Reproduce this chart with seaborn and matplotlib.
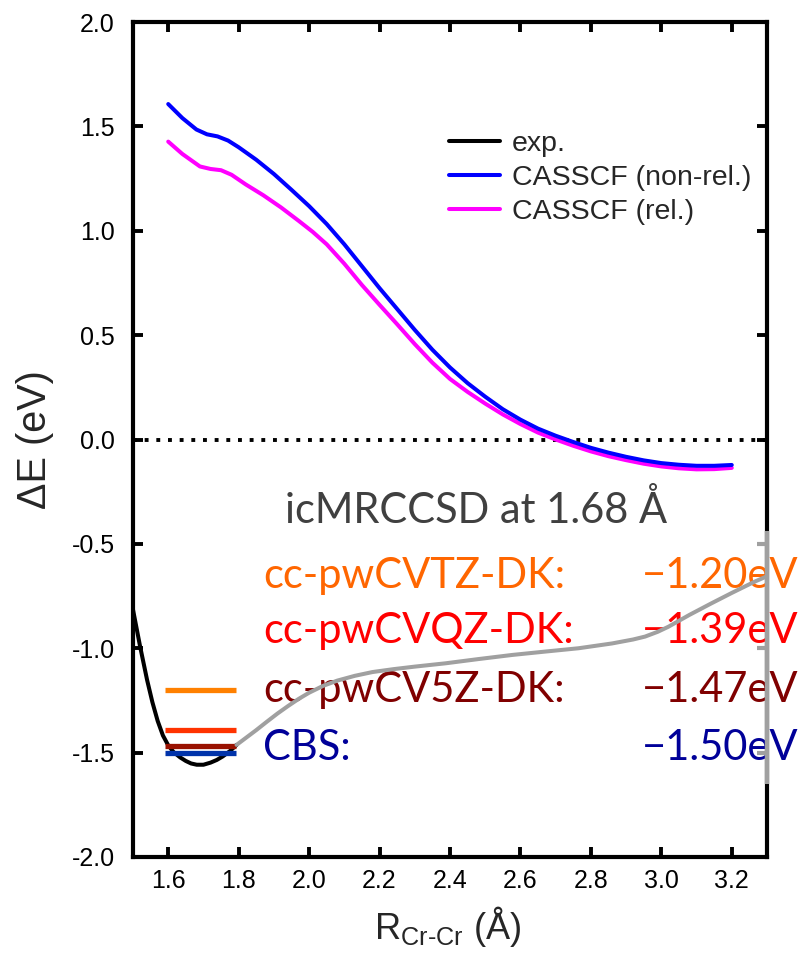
import matplotlib
matplotlib.use("Agg")
import matplotlib.pyplot as plt
import matplotlib.transforms as mtransforms
import pandas as pd
import seaborn as sns

# --- data -------------------------------------------------------------
# CASSCF (non-relativistic) potential curve
nonrel_r = [1.60, 1.64, 1.68, 1.71, 1.74, 1.77, 1.80, 1.85, 1.90, 1.95,
            2.00, 2.05, 2.10, 2.15, 2.20, 2.25, 2.30, 2.35, 2.40, 2.45,
            2.50, 2.55, 2.60, 2.65, 2.70, 2.75, 2.80, 2.85, 2.90, 2.95,
            3.00, 3.05, 3.10, 3.15, 3.20]
nonrel_e = [1.607, 1.540, 1.485, 1.462, 1.452, 1.432, 1.400, 1.340, 1.272, 1.196,
            1.118, 1.032, 0.935, 0.830, 0.725, 0.625, 0.525, 0.430, 0.345, 0.270,
            0.205, 0.145, 0.095, 0.052, 0.018, -0.012, -0.040, -0.063, -0.083, -0.100,
            -0.113, -0.121, -0.126, -0.126, -0.122]

# CASSCF (relativistic) potential curve
rel_r = [1.60, 1.64, 1.69, 1.72, 1.75, 1.78, 1.82, 1.87, 1.92, 1.97,
         2.01, 2.05, 2.10, 2.15, 2.20, 2.25, 2.30, 2.35, 2.40, 2.45,
         2.50, 2.55, 2.60, 2.65, 2.70, 2.75, 2.80, 2.85, 2.90, 2.95,
         3.00, 3.05, 3.10, 3.15, 3.20]
rel_e = [1.427, 1.368, 1.308, 1.296, 1.290, 1.268, 1.222, 1.170, 1.112, 1.048,
         0.995, 0.935, 0.842, 0.740, 0.645, 0.552, 0.457, 0.368, 0.290, 0.228,
         0.172, 0.120, 0.074, 0.033, 0.000, -0.030, -0.057, -0.080, -0.099, -0.116,
         -0.129, -0.138, -0.143, -0.142, -0.136]

# experimental curve (black near the minimum, grey beyond)
exp_r = [1.500, 1.520, 1.540, 1.555, 1.570, 1.585, 1.600, 1.615, 1.634, 1.650,
         1.665, 1.681, 1.700, 1.720, 1.738, 1.755, 1.775, 1.794]
exp_e = [-0.815, -0.990, -1.152, -1.258, -1.348, -1.418, -1.465, -1.497, -1.523, -1.540,
         -1.552, -1.558, -1.558, -1.548, -1.535, -1.518, -1.493, -1.463]
exp_far_r = [1.794, 1.820, 1.850, 1.880, 1.910, 1.940, 1.970, 2.000, 2.040, 2.080,
             2.130, 2.180, 2.240, 2.300, 2.388, 2.480, 2.577, 2.670, 2.765, 2.860,
             2.920, 2.954, 2.990, 3.020, 3.080, 3.142, 3.200, 3.265, 3.300]
exp_far_e = [-1.463, -1.430, -1.392, -1.352, -1.313, -1.277, -1.243, -1.213, -1.180, -1.155,
             -1.132, -1.114, -1.100, -1.088, -1.072, -1.052, -1.032, -1.016, -1.000, -0.977,
             -0.958, -0.944, -0.921, -0.897, -0.840, -0.785, -0.735, -0.681, -0.655]

# icMRCCSD well depths at 1.68 Å
basis_names = ["cc-pwCVTZ-DK:", "cc-pwCVQZ-DK:", "cc-pwCV5Z-DK:", "CBS:"]
basis_depth = [-1.20, -1.39, -1.47, -1.50]
basis_text_colors = ["#FF6600", "#FF0000", "#800000", "#000099"]
basis_line_colors = ["#FF8000", "#FF3300", "#991100", "#0033AA"]

x_ticks = [1.6, 1.8, 2.0, 2.2, 2.4, 2.6, 2.8, 3.0, 3.2]
y_ticks = [-2.0, -1.5, -1.0, -0.5, 0.0, 0.5, 1.0, 1.5, 2.0]

# --- style ------------------------------------------------------------
sns.set_style("ticks")
plt.rcParams["font.family"] = ["Liberation Sans", "DejaVu Sans"]
plt.rcParams["axes.unicode_minus"] = False
plt.rcParams["mathtext.fontset"] = "custom"
plt.rcParams["mathtext.rm"] = "Liberation Sans"

fig = plt.figure(figsize=(8.09, 9.59), dpi=100)
ax = fig.add_axes([133 / 809, 1 - 857 / 959, 634 / 809, 835 / 959])

lw = 2.9
df_nonrel = pd.DataFrame({"r": nonrel_r, "e": nonrel_e})
df_rel = pd.DataFrame({"r": rel_r, "e": rel_e})
df_exp = pd.DataFrame({"r": exp_r, "e": exp_e})
df_far = pd.DataFrame({"r": exp_far_r, "e": exp_far_e})

sns.lineplot(data=df_exp, x="r", y="e", ax=ax, color="black", lw=lw,
             sort=False, estimator=None, label="exp.", zorder=3)
sns.lineplot(data=df_nonrel, x="r", y="e", ax=ax, color="#0000FF", lw=lw,
             sort=False, estimator=None, label="CASSCF (non-rel.)", zorder=3)
sns.lineplot(data=df_rel, x="r", y="e", ax=ax, color="#FF00FF", lw=lw,
             sort=False, estimator=None, label="CASSCF (rel.)", zorder=2.9)

# zero reference
ax.axhline(0.0, color="black", lw=2.8, linestyle=(0, (1, 2)),
           dash_capstyle="butt", zorder=1)

# well-depth markers
for d, c in zip(basis_depth, basis_line_colors):
    ax.hlines(d, 1.592, 1.792, color=c, lw=3.8, zorder=4)

# annotations
txt_font = ["Lato", "DejaVu Sans"]
ax.text(1.931, -0.40, "icMRCCSD at 1.68 Å", color="#404040", fontsize=30,
        family=txt_font, ha="left", va="baseline", zorder=5)
row_base = [-0.711, -0.975, -1.257, -1.535]
for name, d, c, yb in zip(basis_names, basis_depth, basis_text_colors, row_base):
    ax.text(1.869, yb, name, color=c, fontsize=30, family=txt_font,
            ha="left", va="baseline", zorder=5, clip_on=False)
    ax.text(2.944, yb, f"\u2212{abs(d):.2f}eV", color=c, fontsize=30,
            family=txt_font, ha="left", va="baseline", zorder=5, clip_on=False)

# grey continuation of the experimental curve
sns.lineplot(data=df_far, x="r", y="e", ax=ax, color="#A0A0A0", lw=lw,
             sort=False, estimator=None, zorder=6)

# axes
ax.set_xlim(1.5, 3.3)
ax.set_ylim(-2.0, 2.0)
ax.set_xticks(x_ticks)
ax.set_yticks(y_ticks)
ax.set_xticklabels([f"{t:.1f}" for t in x_ticks])
ax.set_yticklabels([f"{t:.1f}" for t in y_ticks])
ax.tick_params(direction="in", length=7, width=2.8, top=True, right=True,
               labelsize=18, colors="black")
ax.tick_params(axis="x", pad=9)
ax.tick_params(axis="y", pad=13)
for s in ax.spines.values():
    s.set_linewidth(3.0)
    s.set_color("black")

# grey overlay on the right edge
trans = mtransforms.blended_transform_factory(ax.transAxes, ax.transData)
ax.plot([1, 1], [-0.44, -1.65], transform=trans, color="#A0A0A0", lw=3.2,
        clip_on=False, zorder=7, solid_capstyle="butt")
for yt in [-0.5, -1.0, -1.5]:
    ax.plot([1 - 10 / 634, 1], [yt, yt], transform=trans, color="#A0A0A0",
            lw=3.0, clip_on=False, zorder=7, solid_capstyle="butt")

ax.set_xlabel(r"R$_{\mathregular{Cr‐Cr}}$ (Å)", fontsize=26)
ax.set_ylabel("ΔE (eV)", fontsize=28.5)
ax.xaxis.set_label_coords(0.497, -0.056)
ax.yaxis.set_label_coords(-0.125, 0.5)

leg = ax.legend(loc="upper left", bbox_to_anchor=(0.498, 0.869), frameon=False,
                fontsize=20.5, handlelength=1.8, handletextpad=0.42,
                labelspacing=0.28, borderpad=0, borderaxespad=0)
for h in leg.get_lines():
    h.set_linewidth(lw)

fig.savefig("out.png", dpi=100)
